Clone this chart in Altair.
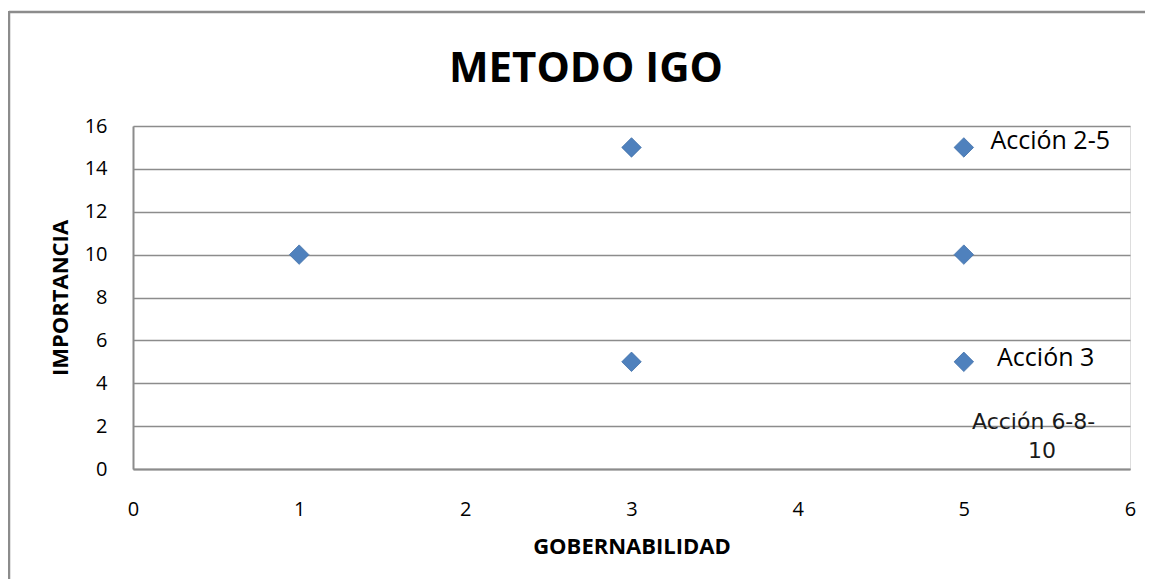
import altair as alt
import pandas as pd

gobernabilidad = [1, 3, 3, 5, 5, 5]
importancia = [10, 15, 5, 15, 10, 5]

label_x = [5.16, 5.2, 5.42, 5.47]
label_y = [15.3, 5.2, 2.2, 0.85]
label_text = ["Acción 2-5", "Acción 3", "Acción 6-8-", "10"]
label_align = ["left", "left", "center", "center"]

pts = pd.DataFrame({"x": gobernabilidad, "y": importancia})
lbl = pd.DataFrame({"x": label_x, "y": label_y, "t": label_text, "a": label_align})

FONT = "Open Sans"

xs = alt.Scale(domain=[0, 6], nice=False)
ys = alt.Scale(domain=[0, 16], nice=False)

one = pd.DataFrame({"k": [0]})

border_top = alt.Chart(one).mark_rule(color="#8c8c8c", strokeWidth=2.5).encode(
    x=alt.value(-124), x2=alt.value(1100), y=alt.value(-114)
)
border_left = alt.Chart(one).mark_rule(color="#8c8c8c", strokeWidth=2.5).encode(
    x=alt.value(-124), y=alt.value(-115), y2=alt.value(700)
)

title = alt.Chart(one).mark_text(
    font=FONT, fontSize=42, fontWeight="bold", color="#000",
    align="center", baseline="alphabetic"
).encode(x=alt.value(453), y=alt.value(-44), text=alt.value("METODO IGO"))

points = alt.Chart(pts).mark_point(
    shape="diamond", filled=True, size=380, color="#4f81bd", opacity=1,
    stroke="#3f6fa8", strokeWidth=0.8
).encode(
    x=alt.X("x:Q", scale=xs, title="GOBERNABILIDAD",
            axis=alt.Axis(values=[0, 1, 2, 3, 4, 5, 6], format="d", grid=False, ticks=False,
                          labelFlush=False,
                          domain=True, domainColor="#8c8c8c", domainWidth=2,
                          labelFontSize=20, labelFont=FONT, labelColor="#000",
                          labelPadding=30, titleFont=FONT, titleFontSize=22,
                          titleFontWeight="bold", titleColor="#000", titlePadding=17)),
    y=alt.Y("y:Q", scale=ys, title="IMPORTANCIA",
            axis=alt.Axis(values=list(range(0, 17, 2)), format="d", grid=True, gridColor="#8c8c8c",
                          labelFlush=False,
                          gridWidth=1.6, ticks=False, domain=True, domainColor="#8c8c8c",
                          domainWidth=2, labelFontSize=20, labelFont=FONT, labelColor="#000",
                          labelPadding=26, titleFont=FONT, titleFontSize=22,
                          titleFontWeight="bold", titleColor="#000", titlePadding=12)),
)

lbl_left = alt.Chart(lbl[lbl.a == "left"]).mark_text(
    align="left", baseline="middle", font=FONT, fontSize=25, color="#000"
).encode(x=alt.X("x:Q", scale=xs), y=alt.Y("y:Q", scale=ys), text="t:N")

lbl_center = alt.Chart(lbl[lbl.a == "center"]).mark_text(
    align="center", baseline="middle", font="DejaVu Sans", fontSize=22, color="#1a1a1a"
).encode(x=alt.X("x:Q", scale=xs), y=alt.Y("y:Q", scale=ys), text="t:N")

chart = alt.layer(border_top, border_left, title, points, lbl_left, lbl_center).properties(
    width=997, height=343,
    autosize=alt.AutoSizeParams(type="none"),
    padding={"left": 125, "top": 118, "right": 15, "bottom": 110},
).configure_view(stroke=None).configure(background="white")

chart.save("out.html", embed_options={"renderer": "svg", "actions": False})
